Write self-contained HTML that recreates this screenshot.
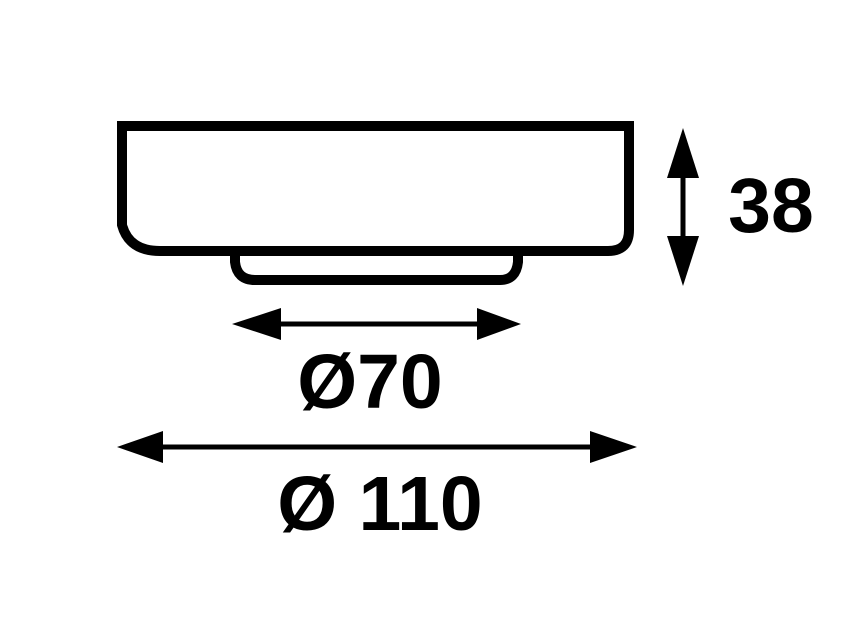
<!DOCTYPE html>
<html><head><style>body{margin:0;background:#fff}svg{display:block}</style></head><body>
<svg width="850" height="630" viewBox="0 0 850 630" xmlns="http://www.w3.org/2000/svg">
<g fill="none" stroke="#000" stroke-width="10">
<path d="M122 126 H629 V230 Q629 251 608 251 H160 Q129 251 122 225 Z"/>
<path d="M235 253 V262 Q237 280 255 280 H500 Q516 280 518 262 V253"/>
</g>
<g stroke="#000" stroke-width="5">
<line x1="260" y1="324" x2="490" y2="324"/>
<line x1="145" y1="447" x2="610" y2="447"/>
<line x1="683" y1="160" x2="683" y2="255"/>
</g>
<g fill="#000">
<polygon points="232,324 281,308 281,340"/>
<polygon points="521,324 477,308 477,340"/>
<polygon points="117,447 163,431 163,463"/>
<polygon points="637,447 590,431 590,463"/>
<polygon points="683,128 667,178 699,178"/>
<polygon points="683,286 667,236 699,236"/>
</g>
<g font-family="Liberation Sans, sans-serif" font-weight="bold" font-size="77" fill="#000">
<text x="771" y="232" text-anchor="middle">38</text>
<text x="370" y="408" text-anchor="middle">Ø70</text>
<text x="380" y="530" text-anchor="middle">Ø 110</text>
</g>
</svg>
</body></html>
